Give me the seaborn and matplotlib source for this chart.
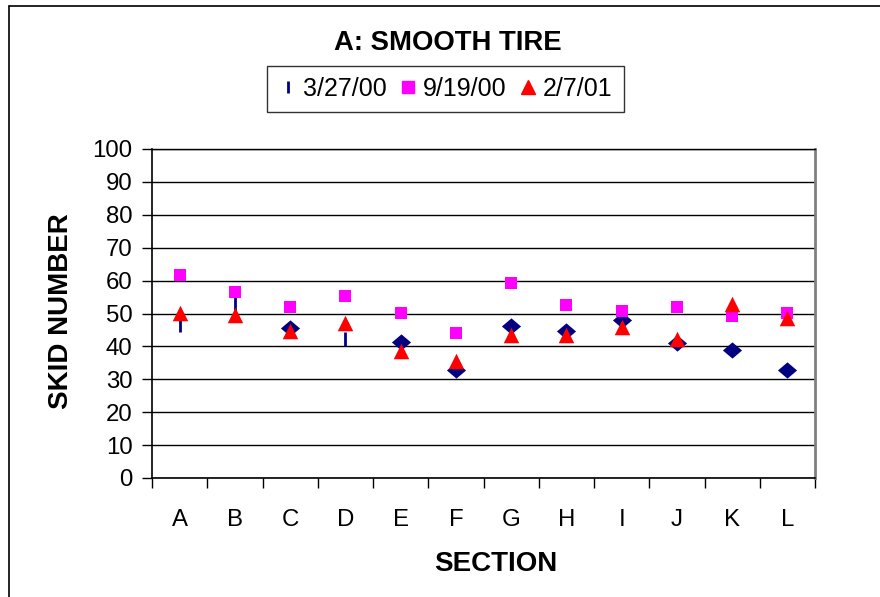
import matplotlib
matplotlib.use("Agg")
import matplotlib.pyplot as plt
from matplotlib.lines import Line2D
import seaborn as sns
import pandas as pd

sections = ["A", "B", "C", "D", "E", "F", "G", "H", "I", "J", "K", "L"]
s_032700 = [46.5, 53.0, 45.6, 42.4, 41.4, 32.8, 46.2, 44.7, 48.0, 41.0, 38.9, 32.8]
s_091900 = [61.7, 56.6, 52.0, 55.4, 50.2, 44.0, 59.2, 52.6, 50.8, 52.1, 49.3, 50.3]
s_020701 = [50.1, 49.5, 44.7, 47.1, 38.6, 35.7, 43.5, 43.5, 46.0, 42.2, 52.9, 48.6]
series_names = ["3/27/00", "9/19/00", "2/7/01"]
y_ticks = [0, 10, 20, 30, 40, 50, 60, 70, 80, 90, 100]

# sections whose 3/27/00 marker renders as a thin vertical bar in the reference
bar_sections = ["A", "B", "D"]

sns.set_theme(style="white")
plt.rcParams["font.family"] = ["Liberation Sans", "DejaVu Sans"]
for key in ("text.color", "axes.labelcolor", "xtick.color", "ytick.color"):
    plt.rcParams[key] = "black"

fig = plt.figure(figsize=(8.8, 5.97), dpi=100)
ax = fig.add_axes([152 / 880, 119 / 597, (815 - 152) / 880, (478 - 149) / 597])

df1 = pd.DataFrame({"section": sections, "value": s_032700})
df2 = pd.DataFrame({"section": sections, "value": s_091900})
df3 = pd.DataFrame({"section": sections, "value": s_020701})
df1["bar"] = df1["section"].isin(bar_sections)

order = {s: i for i, s in enumerate(sections)}
for d in (df1, df2, df3):
    d["x"] = d["section"].map(order)

navy, magenta, red = "#000080", "#FF00FF", "#FF0000"
diamond = [(-1, 0), (0, 0.85), (1, 0), (0, -0.85), (-1, 0)]

sns.scatterplot(data=df1[~df1["bar"]], x="x", y="value", marker=diamond, s=190,
                color=navy, edgecolor=navy, linewidth=0, ax=ax, zorder=3)
ax.plot(df1[df1["bar"]]["x"], df1[df1["bar"]]["value"], ls="none", marker="|",
        markersize=9.5, markeredgewidth=2.0, color=navy, zorder=3)
sns.scatterplot(data=df2, x="x", y="value", marker="s", s=80,
                color=magenta, edgecolor=magenta, linewidth=0, ax=ax, zorder=4)
sns.scatterplot(data=df3, x="x", y="value", marker="^", s=125,
                color=red, edgecolor=red, linewidth=0, ax=ax, zorder=5)

ax.set_xlim(-0.5, len(sections) - 0.5)
ax.set_ylim(0, 100)
ax.set_yticks(y_ticks)
ax.set_yticklabels([str(t) for t in y_ticks], fontsize=17.3)
ax.set_xticks([i - 0.5 for i in range(len(sections) + 1)])
ax.set_xticklabels([])
ax.set_xticks(range(len(sections)), minor=True)
ax.set_xticklabels(sections, minor=True, fontsize=17.3)
ax.tick_params(axis="x", which="major", direction="out", length=7, width=1, color="black", bottom=True)
ax.tick_params(axis="x", which="minor", length=0, pad=22)
ax.tick_params(axis="y", direction="out", length=7, width=1, color="black", left=True, pad=7)

ax.yaxis.grid(True, color="black", linewidth=1.0)
ax.xaxis.grid(False)
ax.set_axisbelow(True)
for side in ("left", "bottom"):
    ax.spines[side].set_color("black")
    ax.spines[side].set_linewidth(1.2)
ax.spines["top"].set_color("black")
ax.spines["top"].set_linewidth(1.0)
ax.spines["right"].set_color("#808080")
ax.spines["right"].set_linewidth(2.0)

ax.set_xlabel("SECTION", fontsize=20, fontweight="bold")
ax.set_ylabel("SKID NUMBER", fontsize=20, fontweight="bold")
ax.xaxis.set_label_coords((496 - 152) / 663, -(564 - 478) / 329)
ax.xaxis.label.set_va("center")
ax.yaxis.set_label_coords(-(152 - 61) / 663, (478 - 311) / 329)
ax.yaxis.label.set_va("center")

fig.text(448 / 880, 1 - 43 / 597, "A: SMOOTH TIRE", fontsize=19.8, fontweight="bold",
         ha="center", va="center")

handles = [
    Line2D([], [], ls="none", marker="|", markersize=9, markeredgewidth=2, color=navy),
    Line2D([], [], ls="none", marker="s", markersize=8.5, color=magenta),
    Line2D([], [], ls="none", marker="^", markersize=10, color=red),
]
leg = fig.legend(handles, series_names, loc="center", bbox_to_anchor=(445 / 880, 1 - 89 / 597),
                 ncol=3, fontsize=18, frameon=True, fancybox=False, edgecolor="black",
                 handlelength=0.8, handletextpad=0.2, columnspacing=0.45, borderpad=0.45)
leg.get_frame().set_linewidth(1.0)

# outer chart frame (top and left edges visible in the reference)
fig.add_artist(Line2D([9 / 880, 9 / 880], [0, 1 - 6 / 597], transform=fig.transFigure,
                      color="black", linewidth=1.2))
fig.add_artist(Line2D([9 / 880, 1], [1 - 6 / 597, 1 - 6 / 597], transform=fig.transFigure,
                      color="black", linewidth=1.2))

fig.savefig("out.png", dpi=100, facecolor="white")
